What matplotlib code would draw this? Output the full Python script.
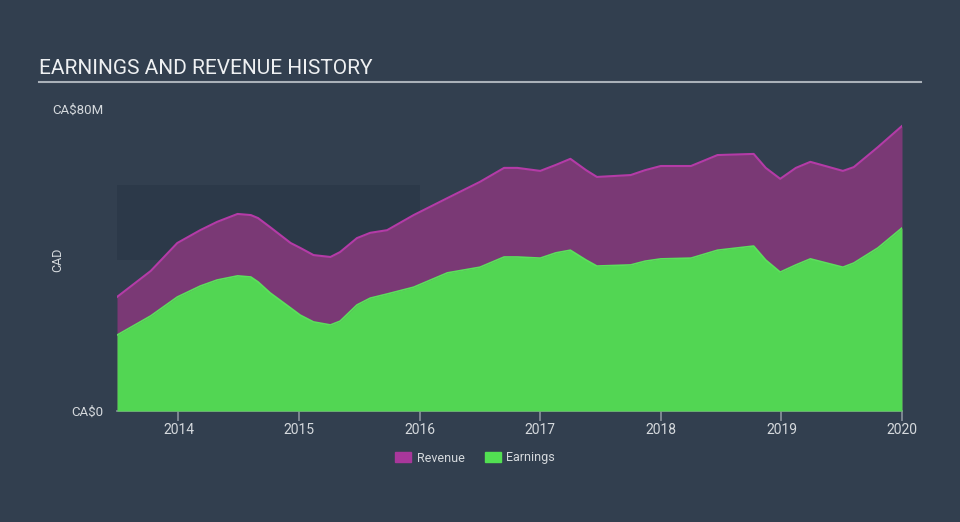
import numpy as np
import matplotlib.pyplot as plt
from matplotlib.patches import Rectangle

plt.rcParams['font.family'] = ['Roboto', 'DejaVu Sans']

# data (CA$ millions)
dates = [2013.49, 2013.77, 2013.99, 2014.18, 2014.32, 2014.49, 2014.60, 2014.66,
         2014.76, 2014.93, 2015.01, 2015.12, 2015.26, 2015.34, 2015.48, 2015.59,
         2015.73, 2015.95, 2016.23, 2016.50, 2016.70, 2016.81, 2017.00, 2017.13,
         2017.25, 2017.38, 2017.47, 2017.75, 2017.87, 2018.00, 2018.25, 2018.47,
         2018.77, 2018.87, 2018.99, 2019.12, 2019.24, 2019.51, 2019.60, 2019.80,
         2020.00]
revenue = [30.2, 37.1, 44.5, 47.9, 50.1, 52.2, 51.9, 51.1, 48.7, 44.5, 43.2,
           41.3, 40.8, 42.1, 45.8, 47.2, 47.9, 51.9, 56.4, 60.7, 64.4, 64.4,
           63.6, 65.2, 66.8, 63.8, 62.0, 62.5, 63.8, 64.9, 64.9, 67.8, 68.1,
           64.4, 61.5, 64.4, 66.0, 63.6, 64.6, 69.9, 75.5]
earnings = [20.1, 25.2, 30.2, 33.1, 34.7, 35.8, 35.5, 34.2, 31.3, 27.3, 25.4,
            23.6, 22.8, 23.8, 28.1, 29.9, 31.0, 32.8, 36.6, 38.1, 40.8, 40.8,
            40.5, 41.9, 42.6, 40.0, 38.4, 38.7, 39.7, 40.3, 40.5, 42.6, 43.7,
            40.0, 36.8, 38.7, 40.3, 38.1, 39.2, 43.2, 48.5]
band_x = [2013.49, 2016.0]
band_y = [40, 60]
years = [2014, 2015, 2016, 2017, 2018, 2019, 2020]

bg = '#323f4f'
fig = plt.figure(figsize=(9.6, 5.22), dpi=100, facecolor=bg)
ax = fig.add_axes([117/960, 111/522, 785/960, 302/522])
ax.set_facecolor('none')

ax.add_patch(Rectangle((band_x[0], band_y[0]), band_x[1] - band_x[0], band_y[1] - band_y[0],
                       color='#2c3949', zorder=0, lw=0))

ax.fill_between(dates, 0, revenue, color='#7a3975', lw=0, zorder=1)
ax.plot(dates, revenue, color='#b43ba7', lw=1.5, zorder=2)
ax.fill_between(dates, 0, earnings, color='#52d653', lw=0, zorder=3)
ax.plot(dates, earnings, color='#5be05c', lw=1.2, zorder=4)

ax.set_xlim(dates[0], dates[-1])
ax.set_ylim(0, 80)
for s in ['top', 'right', 'left']:
    ax.spines[s].set_visible(False)
ax.spines['bottom'].set_color('#8a939d')
ax.spines['bottom'].set_linewidth(1.2)
ax.set_xticks(years)
ax.set_xticklabels([str(y) for y in years])
ax.tick_params(axis='x', colors='#8a939d', length=7, width=1.2, labelcolor='#d5d9dd',
               labelsize=10, pad=2)
ax.set_yticks([0, 80])
ax.set_yticklabels(['CA$0', 'CA$80M'])
ax.tick_params(axis='y', length=0, labelcolor='#d5d9dd', labelsize=9.5, pad=10)
ax.set_ylabel('CAD', color='#d5d9dd', fontsize=9)
ax.yaxis.set_label_coords(-0.067, 0.5)

fig.text(39/960, 1 - 69/522, 'EARNINGS AND REVENUE HISTORY', color='#eef0f2',
         fontsize=15, va='center', ha='left')
fig.add_artist(plt.Line2D([39/960, 921/960], [1 - 82/522, 1 - 82/522],
                          color='#aab1b9', lw=1.5))

handles = [Rectangle((0, 0), 1, 1, color='#a8379b'), Rectangle((0, 0), 1, 1, color='#52e052')]
leg = fig.legend(handles, ['Revenue', 'Earnings'], loc='center', bbox_to_anchor=(475/960, 1 - 458/522),
                 ncol=2, frameon=False, fontsize=9, handlelength=1.3, handleheight=0.9,
                 columnspacing=1.6, handletextpad=0.45)
for t in leg.get_texts():
    t.set_color('#d5d9dd')

fig.savefig('out.png', dpi=100, facecolor=bg)
